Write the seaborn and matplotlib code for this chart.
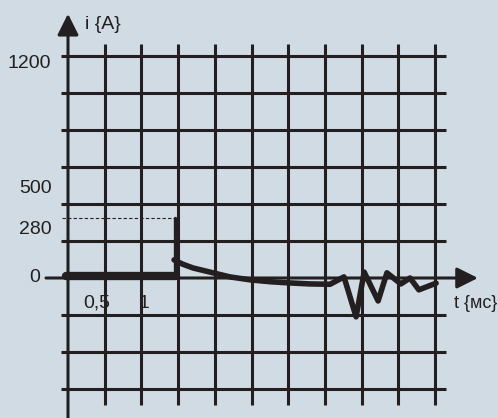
import matplotlib
matplotlib.use('Agg')
import matplotlib.pyplot as plt
import seaborn as sns

# ── data (grid units: 1 cell = 1 unit) ─────────────────────
flat_t = [-0.05, 2.95]
flat_i = [0.05, 0.05]

spike_t = [2.92, 2.92]
spike_i = [0.05, 1.62]

curve_t = [2.89, 3.11, 3.41, 3.95, 4.41, 4.96, 5.50, 5.97, 6.59, 7.14,
           7.52, 7.85, 8.07, 8.45, 8.69, 9.07, 9.32, 9.56, 10.03]
curve_i = [0.49, 0.38, 0.27, 0.14, 0.03, -0.05, -0.10, -0.13, -0.16, -0.17,
           0.03, -1.05, 0.16, -0.62, 0.14, -0.16, 0.0, -0.32, -0.14]

ref_level = 1.62          # dashed 280 A line
y_labels = ['0', '280', '500', '1200']
y_label_pos = [0.0, 1.32, 2.43, 5.81]
x_labels = ['0,5', '1']
x_label_pos = [0.77, 2.06]

grid_cols = list(range(0, 11))
grid_rows = [r for r in range(-3, 7) if r != 0]

ink = '#231f20'
bg = '#d1dbe3'

sns.set_theme(style='white')
plt.rcParams['font.family'] = ['Liberation Sans', 'DejaVu Sans']

fig = plt.figure(figsize=(4.98, 4.18), dpi=100, facecolor=bg)
ax = fig.add_axes([0, 0, 1, 1])
ax.set_axis_off()
ax.set_xlim(-68 / 36.7, 430 / 36.7)
ax.set_ylim(-140 / 37.0, 278 / 37.0)

# grid
ax.vlines(grid_cols[1:], -3.43, 6.32, color=ink, lw=2.2, zorder=1)
ax.hlines(grid_rows, -0.19, 10.3, color=ink, lw=2.2, zorder=1)

# axes with arrows
ax.annotate('', xy=(0, 7.14), xytext=(0, -3.8),
            arrowprops=dict(arrowstyle='-|>', lw=2.2, color=ink,
                            mutation_scale=32, shrinkA=0, shrinkB=0))
ax.annotate('', xy=(11.17, 0), xytext=(-0.6, 0),
            arrowprops=dict(arrowstyle='-|>', lw=2.2, color=ink,
                            mutation_scale=32, shrinkA=0, shrinkB=0))

# dashed reference
ax.plot([-0.16, 2.92], [ref_level, ref_level], color=ink, lw=0.8,
        ls=(0, (3, 2)), zorder=2)

# current trace
sns.lineplot(x=flat_t, y=flat_i, ax=ax, color=ink, lw=6, zorder=3)
sns.lineplot(x=spike_t, y=spike_i, ax=ax, color=ink, lw=2.4, zorder=3,
             estimator=None, sort=False)
sns.lineplot(x=curve_t, y=curve_i, ax=ax, color=ink, lw=4, zorder=3,
             sort=False, estimator=None)

# labels
fs = 14
for lab, pos in zip(y_labels, y_label_pos):
    xr = -0.76 if lab == '0' else -0.45
    ax.text(xr, pos, lab, ha='right', va='center', fontsize=fs, color=ink)
for lab, pos in zip(x_labels, x_label_pos):
    ax.text(pos, -0.68, lab, ha='center', va='center', fontsize=fs, color=ink)
ax.text(0.46, 6.85, 'i {A}', ha='left', va='center', fontsize=fs, color=ink)
ax.text(10.52, -0.68, 't {мс}', ha='left', va='center', fontsize=13, color=ink)

plt.savefig('out.png', dpi=100, facecolor=bg)
